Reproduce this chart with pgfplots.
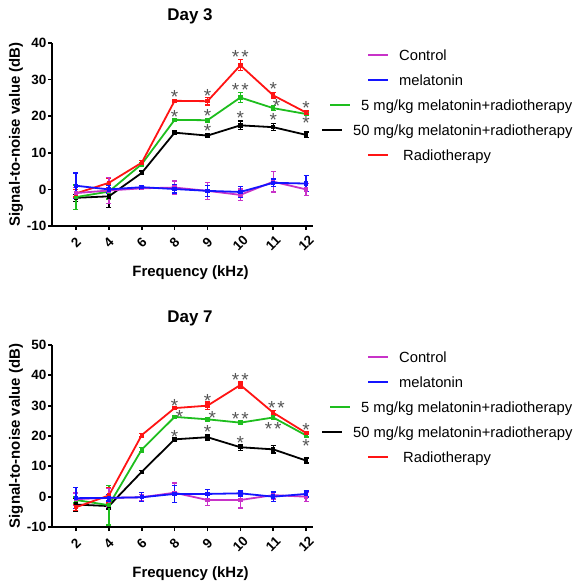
\documentclass[border=0pt]{standalone}
\usepackage{pgfplots}
\pgfplotsset{compat=1.18}
\usepackage{pgfplotstable}
\usepackage{fontspec}
\setmainfont{Liberation Sans}

\definecolor{cmag}{RGB}{200,50,200}
\definecolor{cblue}{RGB}{20,20,255}
\definecolor{cgreen}{RGB}{30,190,30}
\definecolor{cred}{RGB}{255,20,20}
\definecolor{starc}{RGB}{85,85,85}

% Day 3
\pgfplotstableread{
x c ce m me g ge b be r re
0 -1.0 1.5 1.0 3.5 -2.1 3.3 -2.3 1.0 -1.1 1.0
1 -0.3 3.6 0.0 1.0 -0.6 2.0 -1.9 3.0 1.8 1.3
2 0.3 0.4 0.6 0.5 6.9 0.5 4.5 0.5 7.3 0.5
3 0.5 1.8 0.1 1.1 19.0 0.3 15.5 0.4 24.2 0.3
4 -0.4 2.3 -0.4 1.5 18.9 0.5 14.7 0.3 24.1 1.0
5 -1.5 1.6 -0.7 1.4 25.1 1.3 17.5 1.2 33.9 1.5
6 2.1 2.8 1.8 1.0 22.2 0.7 17.0 1.0 25.7 0.7
7 0.0 1.7 1.6 2.2 20.6 0.4 14.9 0.8 21.0 0.4
}\dthree

% Day 7
\pgfplotstableread{
x c ce m me g ge b be r re
0 -0.8 2.0 -0.5 3.5 -1.1 1.0 -2.6 2.2 -3.5 1.0
1 -0.4 3.0 -0.4 1.0 -2.8 6.5 -3.1 1.0 0.4 2.5
2 -0.2 1.0 -0.2 1.5 15.5 0.8 8.2 0.5 20.3 0.6
3 1.3 3.2 0.9 2.8 26.3 0.3 18.9 0.5 29.2 0.3
4 -1.1 1.7 0.9 1.5 25.5 0.4 19.6 0.9 30.0 1.2
5 -1.1 2.6 1.1 1.0 24.4 0.3 16.3 1.0 36.8 1.0
6 0.5 1.3 0.0 1.5 26.1 0.6 15.6 1.2 27.7 0.8
7 0.0 1.5 0.9 1.0 20.2 0.5 11.9 0.8 21.0 0.3
}\dseven

\newcommand{\lgent}[3]{\hspace{#1}\textcolor{#2}{\rule[4.4bp]{20bp}{1.8bp}}\hspace{11bp}#3}
\newcommand{\st}[3]{\node[text=starc, font=\fontsize{19}{19}\selectfont, inner sep=0pt, yshift=-4bp] at (axis cs:#1,#2) {#3};}

\pgfplotsset{
  myaxis/.style={
    scale only axis, width=261bp,
    clip=false,
    axis x line*=bottom, axis y line*=left,
    axis line style={line width=1.7bp, black},
    xmin=-0.73, xmax=7.21,
    xtick={0,...,7}, xticklabels={2,4,6,8,9,10,11,12},
    tick align=outside, major tick length=4bp,
    tick style={line width=1.7bp, black},
    /pgf/number format/assume math mode=true,
    ticklabel style={font=\bfseries\fontsize{13.5}{15}\selectfont},
    xticklabel style={yshift=-13bp, rotate=45, anchor=center},
    yticklabel style={inner sep=1.5bp},
    title style={font=\bfseries\fontsize{17}{20}\selectfont, at={(0.529,1)}, anchor=base, yshift=17bp},
    xlabel={Frequency (kHz)},
    ylabel={Signal-to-noise value (dB)},
    xlabel style={font=\bfseries\fontsize{15}{18}\selectfont, at={(0.531,-0.255)}, anchor=center},
    ylabel style={font=\bfseries\fontsize{15}{18}\selectfont, at={(-0.138,0.5)}, anchor=center},
    legend style={at={(1.0345,0.9656)}, anchor=north west, draw=none, fill=none,
      inner sep=0pt, row sep=11bp, font=\fontsize{14.8}{17}\selectfont,
      nodes={inner sep=0pt, text height=11bp, text depth=3bp}},
    legend cell align=left,
    legend image code/.code={},
  },
  ser/.style={#1, line width=1.8bp, mark=square*, mark size=1.3bp, forget plot,
    mark options={solid},
    error bars/.cd, y dir=both, y explicit,
    error bar style={line width=1.3bp, #1},
    error mark options={rotate=90, mark size=2.5bp, line width=1.3bp, #1}},
}

\begin{document}
\begin{tikzpicture}
\useasboundingbox (0,0) rectangle (583bp,588bp);

\begin{axis}[myaxis, at={(52bp,362bp)}, anchor=south west, height=183bp,
  ymin=-10, ymax=40, ytick={-10,0,...,40}, title={Day 3}]
\addlegendimage{}\addlegendentry{\lgent{46bp}{cmag}{Control}}
\addlegendimage{}\addlegendentry{\lgent{46bp}{cblue}{melatonin}}
\addlegendimage{}\addlegendentry{\lgent{8bp}{cgreen}{5 mg/kg melatonin+radiotherapy}}
\addlegendimage{}\addlegendentry{\lgent{0bp}{black}{50 mg/kg melatonin+radiotherapy}}
\addlegendimage{}\addlegendentry{\lgent{46bp}{cred}{\hspace{4bp}Radiotherapy}}
\addplot[ser=black] table[x=x, y=b, y error=be] {\dthree};
\addplot[ser=cgreen] table[x=x, y=g, y error=ge] {\dthree};
\addplot[ser=cred] table[x=x, y=r, y error=re] {\dthree};
\addplot[ser=cmag] table[x=x, y=c, y error=ce] {\dthree};
\addplot[ser=cblue] table[x=x, y=m, y error=me] {\dthree};
\st{3}{26.3}{*}
\st{4}{26.7}{*}
\st{5}{37.2}{*\hspace{2bp}*}
\st{6}{28.5}{*}
\st{7}{23.3}{*}
\st{3}{20.8}{*}
\st{4}{21.2}{*}
\st{5}{28.3}{*\hspace{2bp}*}
\st{6.1}{24.0}{*}
\st{7}{19.2}{*}
\st{4}{17.0}{*}
\st{5}{20.6}{*}
\st{6}{20.1}{*}
\end{axis}

\begin{axis}[myaxis, at={(52bp,61bp)}, anchor=south west, height=182bp,
  ymin=-10, ymax=50, ytick={-10,0,...,50}, title={Day 7}]
\addlegendimage{}\addlegendentry{\lgent{46bp}{cmag}{Control}}
\addlegendimage{}\addlegendentry{\lgent{46bp}{cblue}{melatonin}}
\addlegendimage{}\addlegendentry{\lgent{8bp}{cgreen}{5 mg/kg melatonin+radiotherapy}}
\addlegendimage{}\addlegendentry{\lgent{0bp}{black}{50 mg/kg melatonin+radiotherapy}}
\addlegendimage{}\addlegendentry{\lgent{46bp}{cred}{\hspace{4bp}Radiotherapy}}
\addplot[ser=black] table[x=x, y=b, y error=be] {\dseven};
\addplot[ser=cgreen] table[x=x, y=g, y error=ge] {\dseven};
\addplot[ser=cred] table[x=x, y=r, y error=re] {\dseven};
\addplot[ser=cmag] table[x=x, y=c, y error=ce] {\dseven};
\addplot[ser=cblue] table[x=x, y=m, y error=me] {\dseven};
\st{3}{31.3}{*}
\st{4}{33.0}{*}
\st{5}{39.8}{*\hspace{2bp}*}
\st{6.1}{30.5}{*\hspace{2bp}*}
\st{7}{23.3}{*}
\st{3.15}{27.7}{*}
\st{4.15}{27.3}{*}
\st{5}{26.9}{*\hspace{2bp}*}
\st{6}{23.6}{*\hspace{2bp}*}
\st{7}{18.1}{*}
\st{3}{20.9}{*}
\st{4}{22.5}{*}
\st{5}{19.0}{*}
\end{axis}
\end{tikzpicture}
\end{document}
